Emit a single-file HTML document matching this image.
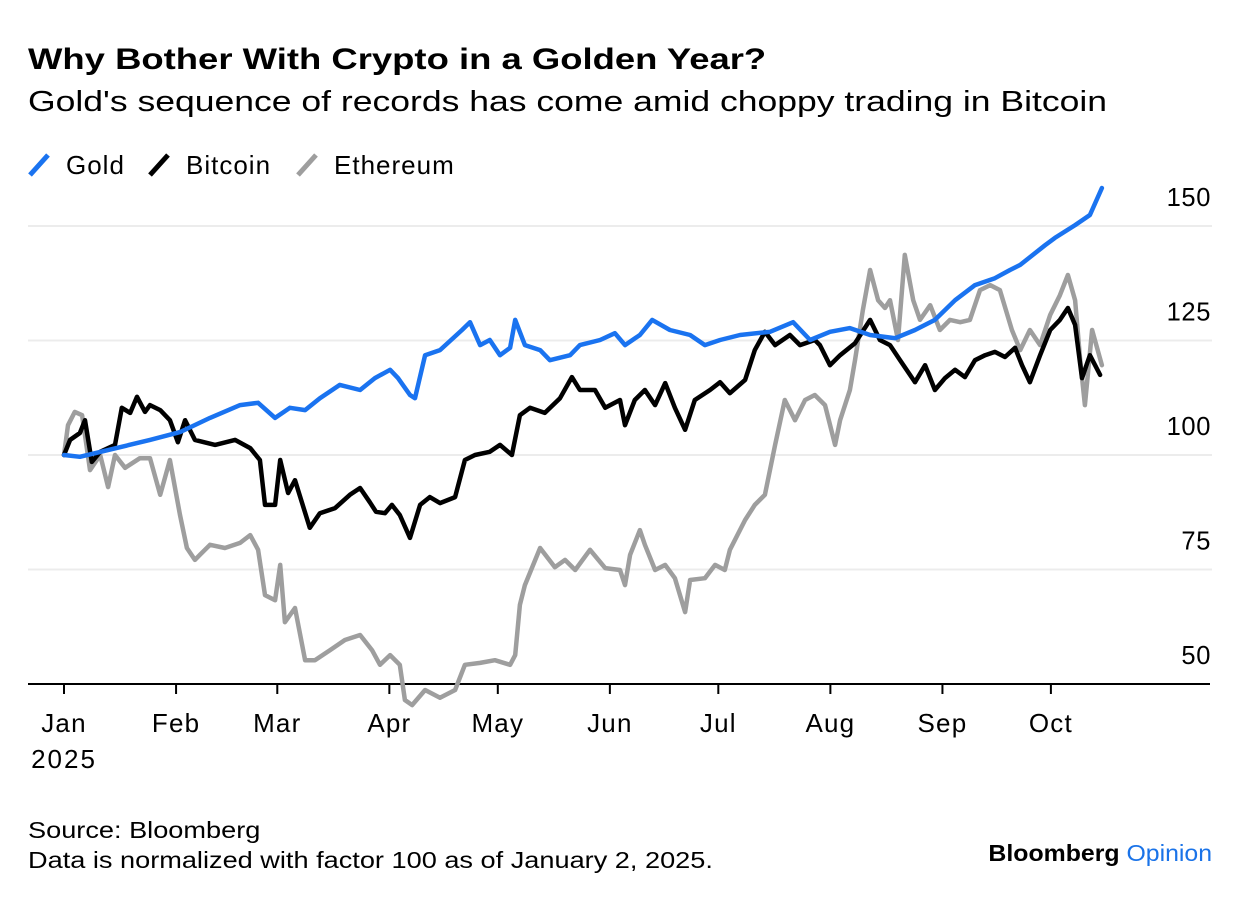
<!DOCTYPE html>
<html><head><meta charset="utf-8">
<style>
body{margin:0;background:#fff;font-family:"Liberation Sans",Arial,sans-serif;}
#wrap{position:relative;width:1240px;height:898px;overflow:hidden;}
.t{position:absolute;left:28px;color:#000;white-space:nowrap;transform-origin:left top;}
</style></head>
<body>
<div id="wrap">
<div class="t" style="top:43px;font-size:30px;font-weight:bold;transform:scaleX(1.215);">Why Bother With Crypto in a Golden Year?</div>
<div class="t" style="top:86px;font-size:29px;transform:scaleX(1.225);">Gold's sequence of records has come amid choppy trading in Bitcoin</div>
<svg id="chart" width="1240" height="898" style="position:absolute;left:0;top:0"></svg>
<div class="t" style="top:815px;font-size:23px;line-height:30px;transform:scaleX(1.18);">Source: Bloomberg<br>Data is normalized with factor 100 as of January 2, 2025.</div>
<div class="t" style="left:auto;right:28px;top:840px;font-size:23px;font-weight:bold;letter-spacing:0px;transform:scaleX(1.08);transform-origin:right top;">Bloomberg <span style="color:#1a73e8;font-weight:normal">Opinion</span></div>
</div>
<script>
const months=["Jan","Feb","Mar","Apr","May","Jun","Jul","Aug","Sep","Oct"];
const monthDays=[0,31,59,90,120,151,181,212,243,273];
const yTicks=[50,75,100,125,150];
const goldDays=[0,4.4,15.5,23.8,32.1,40.4,48.7,53.7,58.4,62.5,66.7,70.8,76.3,81.9,86,90.2,92.4,95.7,97.1,99.9,104,110.1,112.3,115.1,117.8,120.6,123.4,124.8,127.5,131.7,134.4,140,142.7,148.3,152.4,155.2,159.3,162.7,167.6,173.2,177.3,181.5,187,195.3,201.7,206.4,211.9,217.4,223,229.9,235.4,240.9,246.5,252,257.5,261.7,264.5,271.4,274.1,279.7,283.8,287.1];
const goldVals=[100,99.6,101.7,103.3,105,108.1,110.9,111.4,108.1,110.3,109.8,112.4,115.3,114.2,116.8,118.6,116.8,113.1,112.4,121.8,122.9,127.3,129,124,125.1,121.8,123.4,129.5,124,122.9,120.7,121.8,124,125.1,126.6,124,126.2,129.5,127.3,126.2,124,125.1,126.2,126.9,129,125.1,126.9,127.7,126.2,125.5,127.3,129.5,133.8,137.1,138.6,140.4,141.5,145.8,147.4,150.2,152.4,158.3];
const btcDays=[0,1.7,4.4,5.8,7.7,10,14.1,16,18.3,20.2,22.4,23.8,26.6,29.3,31.5,33.5,36.2,41.8,47.3,51.5,54.2,55.6,58.4,59.8,62,63.9,68,70.8,75,79.1,81.9,84.6,86.3,88.8,90.7,92.9,95.7,98.5,101.2,104,108.2,110.9,113.7,117.8,120.6,123.9,126.1,128.9,133,137.2,140.5,142.7,146.9,149.7,153.8,155.2,157.9,160.7,163.5,166.3,169,171.8,174.5,178.7,181.5,184.2,188.4,191.1,193.9,196.7,200.8,203.6,207.7,209.1,211.9,214.7,218.8,223,225.7,228.5,231.3,235.4,238.2,240.9,243.7,246.5,249.2,252,254.8,257.5,260.3,263.1,265,267.2,270,272.8,275.5,277.7,279.7,281.6,283.8,286.6];
const btcVals=[100,103.3,104.8,107.6,98.5,100.7,102.2,110.3,109.2,112.7,109.4,110.9,109.8,107.6,102.8,107.6,103.3,102.2,103.3,101.5,98.9,89.1,89.1,98.9,91.7,94.5,84.1,87.3,88.4,91.3,92.8,89.7,87.6,87.3,89.1,86.9,81.9,89.1,90.8,89.5,90.8,98.9,100,100.7,102.2,100,108.7,110.3,109.2,112.4,117,114.2,114.2,110.3,112,106.5,112,114.2,110.9,115.7,110.3,105.5,112,114.2,115.9,113.5,116.4,122.9,126.9,124,126.2,124,125.1,124,119.6,121.8,124.4,129.5,125.1,124,120.7,115.9,119.6,114.2,116.8,118.6,117,120.7,121.8,122.5,121.4,123.4,119.6,115.9,121.8,127.3,129.5,132.1,128.4,116.8,121.8,117.5];
const ethDays=[0,1.1,3,5,7.2,10,12.2,14.1,16.9,21,23.8,26.6,29.3,32.1,34,36.2,37.6,40.4,44.5,48.7,51.5,53.7,55.6,58.4,59.8,61.1,63.9,66.7,69.4,73.6,77.7,81.9,85.2,87.4,90.2,92.9,94.3,96.3,99.9,104,108.2,110.9,115.1,119.2,123.4,124.8,126.1,127.5,131.7,135.8,138.6,141.4,145.5,149.7,153.8,155.2,156.6,159.3,160.7,163.5,166.3,169,171.8,173.2,177.3,180.1,182.8,184.2,188.4,191.1,193.9,196.7,199.4,202.2,205,207.7,210.5,213.3,214.7,217.4,218.8,221,223,225.2,227.1,228.5,230.7,232.6,234.9,236.8,239.6,242.3,245.1,247.9,250.6,253.4,256.2,258.9,262.2,264.5,267.2,270,272.8,275.5,277.7,279.7,281.1,282.4,284.4,287.1];
const ethVals=[100,106.5,109.4,108.7,96.7,100,93,100,97.2,99.3,99.3,91.3,98.9,86.9,79.7,77.1,78.2,80.4,79.7,80.8,82.5,79.3,69.4,68.3,76,63.5,66.6,55.2,55.2,57.4,59.6,60.7,57.4,54.2,56.3,54.2,46.5,45.4,48.7,47,48.7,54.2,54.6,55.2,54.2,56.3,67.3,71.6,79.7,75.5,77.1,74.9,79.3,75.3,74.9,71.6,78.2,83.6,80.4,74.9,76,73.1,65.7,72.7,73.1,76,74.9,79.3,85.8,89.1,91.3,102.2,112,107.6,112,113.1,110.9,102.2,107.6,114.2,120.7,131.7,140.4,133.8,132.1,133.8,125.1,143.7,133.8,129.5,132.7,127.3,129.5,129,129.5,136,137.1,136,127.3,122.9,127.3,124,130.6,134.9,139.3,133.8,120.7,110.9,127.3,119.6];

const NS="http://www.w3.org/2000/svg";
const svg=document.getElementById('chart');
const xS=d=>64+d*3.615;
const yS=v=>455-(v-100)*4.58;
const FF='Liberation Sans, sans-serif';
function mk(tag,attrs){const e=document.createElementNS(NS,tag);for(const k in attrs)e.setAttribute(k,attrs[k]);svg.appendChild(e);return e;}

yTicks.forEach(v=>{
  if(v>50){const g=mk('line',{x1:28,x2:1212,y1:yS(v),y2:yS(v),stroke:'#ececec','stroke-width':2});
  
  }
  const t=mk('text',{x:1211,y:yS(v)-20,'text-anchor':'end','font-size':25.5,'letter-spacing':0.6,'font-family':FF,fill:'#000'});
  t.textContent=v;
  
  
});
const ax=mk('line',{x1:28,x2:1210,y1:684,y2:684,stroke:'#000','stroke-width':2});


months.forEach((m,i)=>{
  const x=xS(monthDays[i]);
  const tk=mk('line',{x1:x,x2:x,y1:684,y2:694,stroke:'#000','stroke-width':2});
  
  
  const t=mk('text',{x:x,y:732,'text-anchor':'middle','font-size':26,'letter-spacing':1.2,'font-family':FF,fill:'#000'});
  t.textContent=m;
  
  
});
const yr=mk('text',{x:64,y:768,'text-anchor':'middle','font-size':26,'letter-spacing':2,'font-family':FF,fill:'#000'});
yr.textContent='2025';



function line(days,vals,color,name){
  const d=days.map((dd,i)=>(i?'L':'M')+xS(dd).toFixed(1)+','+yS(vals[i]).toFixed(1)).join('');
  const p=mk('path',{d:d,fill:'none',stroke:color,'stroke-width':4.5,'stroke-linejoin':'round','stroke-linecap':'round'});
  
  
}
line(ethDays,ethVals,'#9e9e9e','ethereum-line');
line(btcDays,btcVals,'#000','bitcoin-line');
line(goldDays,goldVals,'#1a73f0','gold-line');

const legend=[['Gold','#1a73f0',28],['Bitcoin','#000',148],['Ethereum','#9e9e9e',296]];
legend.forEach(([n,c,x])=>{
  const s=mk('line',{x1:x+2,y1:175,x2:x+20,y2:155,stroke:c,'stroke-width':5});
  
  
  const t=mk('text',{x:x+38,y:174,'font-size':26,'letter-spacing':1,'font-family':FF,fill:'#000'});
  t.textContent=n;
  
  
});
</script>
</body></html>
